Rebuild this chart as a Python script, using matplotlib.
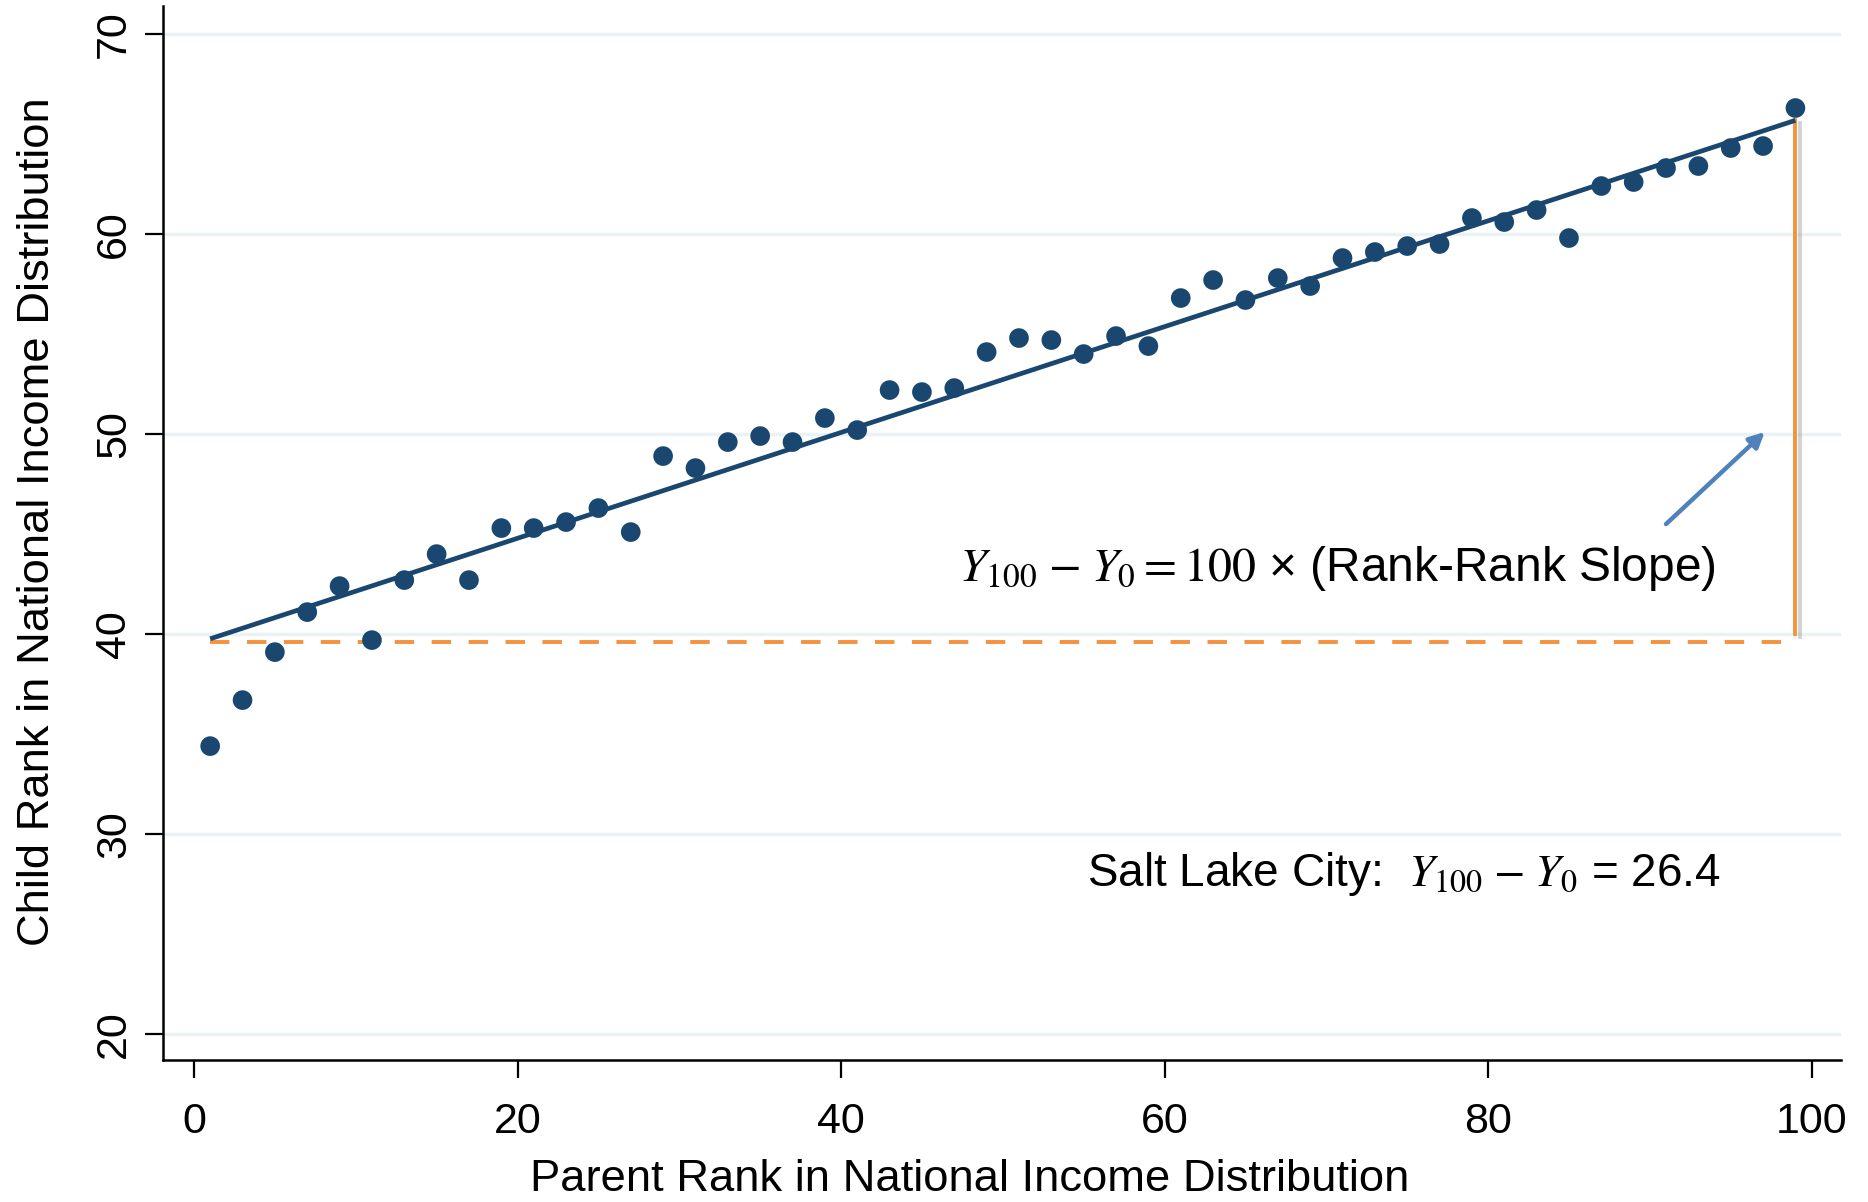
"""
Rank-rank plot: child vs parent income rank, Salt Lake City.
"""

import numpy as np
import matplotlib
matplotlib.use("Agg")
import matplotlib.pyplot as plt
import matplotlib.patheffects as pe

# ─── DATA ────────────────────────────────────────────────────────────────
parent_rank = [1, 3, 5, 7, 9, 11, 13, 15, 17, 19, 21, 23, 25, 27, 29, 31, 33,
               35, 37, 39, 41, 43, 45, 47, 49, 51, 53, 55, 57, 59, 61, 63, 65,
               67, 69, 71, 73, 75, 77, 79, 81, 83, 85, 87, 89, 91, 93, 95, 97, 99]
child_rank = [34.4, 36.7, 39.1, 41.1, 42.4, 39.7, 42.7, 44.0, 42.7, 45.3,
              45.3, 45.6, 46.3, 45.1, 48.9, 48.3, 49.6, 49.9, 49.6, 50.8,
              50.2, 52.2, 52.1, 52.3, 54.1, 54.8, 54.7, 54.0, 54.9, 54.4,
              56.8, 57.7, 56.7, 57.8, 57.4, 58.8, 59.1, 59.4, 59.5, 60.8,
              60.6, 61.2, 59.8, 62.4, 62.6, 63.3, 63.4, 64.3, 64.4, 66.3]

fit_intercept = 39.5
fit_slope = 0.2645
fit_x = [1, 99]

y0_level = 39.6      # dashed reference at parent rank 0
y100_top = 65.7      # top of vertical bracket
bracket_x = 99

arrow_tail = (91.0, 45.5)
arrow_head = (97.1, 50.1)

x_ticks = [0, 20, 40, 60, 80, 100]
y_ticks = [20, 30, 40, 50, 60, 70]

NAVY = "#1a476f"
ORANGE = "#f5923e"
GRID = "#eaf2f3"
ARROW = "#4f81bd"

plt.rcParams["font.family"] = ["Liberation Sans", "DejaVu Sans"]
plt.rcParams["mathtext.fontset"] = "stix"


def main():
    fig = plt.figure(figsize=(18.68, 12.02), dpi=100)
    ax = fig.add_axes([0.0874, 0.118, 0.898, 0.877])

    ax.set_xlim(-1.9, 101.8)
    ax.set_ylim(18.7, 71.4)

    for yt in y_ticks:
        ax.axhline(yt, color=GRID, linewidth=2.5, zorder=0)

    fx = np.array(fit_x, dtype=float)
    ax.plot(fx, fit_intercept + fit_slope * fx, color=NAVY, linewidth=3.4,
            solid_capstyle="butt", zorder=3)

    ax.scatter(parent_rank, child_rank, s=200, color=NAVY, edgecolors="none",
               zorder=4)

    ax.plot([1, 99], [y0_level, y0_level], color=ORANGE, linewidth=2.8,
            dashes=(5, 4.5), zorder=2)
    ax.plot([bracket_x, bracket_x], [40.0, y100_top], color=ORANGE,
            linewidth=2.8, zorder=2,
            path_effects=[pe.SimpleLineShadow(offset=(3, -2), shadow_color="gray",
                                              alpha=0.35),
                          pe.Normal()])

    ax.annotate("", xy=arrow_head, xytext=arrow_tail,
                arrowprops=dict(arrowstyle="-|>,head_length=0.9,head_width=0.45",
                                color=ARROW, linewidth=3.2,
                                shrinkA=0, shrinkB=0),
                zorder=5)

    ax.text(47.3, 43.3, r"$Y_{100}$ – $Y_0 = 100$ × (Rank-Rank Slope)",
            fontsize=34.5, va="center", ha="left")
    ax.text(55.2, 28.0, r"Salt Lake City:  $Y_{100}$ – $Y_0$ = 26.4",
            fontsize=33, va="center", ha="left")

    ax.set_xticks(x_ticks)
    ax.set_yticks(y_ticks)
    ax.tick_params(axis="both", direction="out", length=13, width=1.6,
                   labelsize=31)
    ax.tick_params(axis="x", pad=17)
    ax.tick_params(axis="y", pad=8)
    for lab in ax.get_yticklabels():
        lab.set_rotation(90)
        lab.set_va("center")

    ax.spines["top"].set_visible(False)
    ax.spines["right"].set_visible(False)
    ax.spines["left"].set_linewidth(1.8)
    ax.spines["bottom"].set_linewidth(1.8)

    ax.set_xlabel("Parent Rank in National Income Distribution", fontsize=32.7)
    ax.set_ylabel("Child Rank in National Income Distribution", fontsize=32.7)
    ax.xaxis.set_label_coords(0.481, -0.094)
    ax.yaxis.set_label_coords(-0.063, 0.511)

    fig.savefig("out.png", dpi=100, facecolor="white")


if __name__ == "__main__":
    main()
